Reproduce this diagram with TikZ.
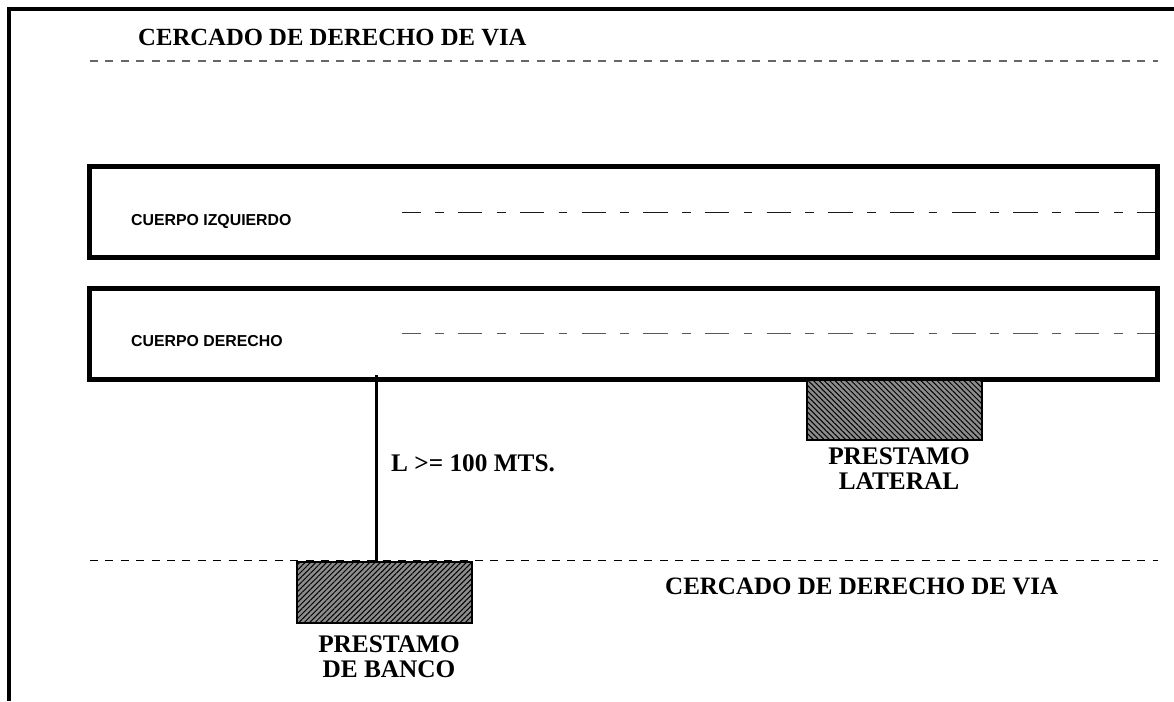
\documentclass[tikz,border=0pt]{standalone}
\usepackage{fontspec}
\setmainfont{Liberation Serif}
\newfontfamily\arialf{Liberation Sans}
\usetikzlibrary{patterns.meta}
\tikzset{x=1pt,y=-1pt,
 ser/.style={inner sep=0pt,font=\fontsize{25.3}{25}\selectfont\bfseries,align=center},
 titlefont/.style={inner sep=0pt,font=\fontsize{24.7}{25}\selectfont\bfseries},
 lowertitle/.style={inner sep=0pt,font=\fontsize{25}{25}\selectfont\bfseries},
 san/.style={inner sep=0pt,anchor=west,font=\arialf\fontsize{15.85}{17}\selectfont\bfseries},
 body/.style={draw=black,line width=5pt,fill=white,inner sep=0pt,outer sep=0pt,minimum width=1067.7pt,anchor=north west},
 fence/.style={line width=1pt,dash pattern=on 8pt off 7.4pt},
 axisline/.style={line width=1pt,dash pattern=on 24.3pt off 14.4pt on 8.7pt off 14.3pt,dash phase=5.3pt},
 hatchbox/.style={draw=black,line width=2.2pt,fill=black!45,anchor=north west,inner sep=0pt,outer sep=0pt},
}
\begin{document}
\begin{tikzpicture}
\useasboundingbox (0,0) rectangle (1174,701);
\coordinate (fa) at (8.8,701);
\coordinate (fb) at (8.8,8.8);
\coordinate (fc) at (1174,8.8);
\draw[line width=4.3pt,miter limit=10] (fa) -- (fb) -- (fc);
\coordinate (t1) at (90,61); \coordinate (t2) at (1158,61);
\draw[fence,draw=black!60,line width=1.3pt] (t1) -- (t2);
\node[titlefont,anchor=west] (ct) at (138,37.5) {CERCADO DE DERECHO DE VIA};
\node[body,minimum height=91pt] (izq) at (89.8,166.8) {};
\node[body,minimum height=90.5pt] (der) at (89.8,288.5) {};
\node[san] (li) at (131,221.5) {CUERPO IZQUIERDO};
\node[san] (ld) at (131,341) {CUERPO DERECHO};
\coordinate (a1) at (401.7,212.5); \coordinate (a2) at (1155,212.5);
\coordinate (b1) at (401.7,333); \coordinate (b2) at (1155,333);
\draw[axisline,draw=black!90] (a1) -- (a2);
\draw[axisline,draw=black!65] (b1) -- (b2);
\coordinate (g1) at (90,560.6); \coordinate (g2) at (1158,560.6);
\draw[fence,draw=black] (g1) -- (g2);
\node[hatchbox,minimum width=175.2pt,minimum height=60.8pt,
  postaction={pattern={Lines[angle=45,distance=3.8pt,line width=1pt]},pattern color=black}] (pb) at (297.1,561.8) {};
\node[hatchbox,minimum width=175.4pt,minimum height=60.5pt,
  postaction={pattern={Lines[angle=-45,distance=3.8pt,line width=1pt]},pattern color=black}] (pl) at (806.8,379.4) {};
\coordinate (lt) at (376.7,375);
\draw[line width=2.5pt] (lt) -- (pb.north -| lt);
\node[ser,anchor=west] (lmts) at (391,463) {L >= 100 MTS.};
\node[ser] (lpl) at (899,468.5) {PRESTAMO\\LATERAL};
\node[lowertitle,anchor=west] (cb) at (665,586) {CERCADO DE DERECHO DE VIA};
\node[ser] (lpb) at (389,656.5) {PRESTAMO\\DE BANCO};
\end{tikzpicture}
\end{document}
